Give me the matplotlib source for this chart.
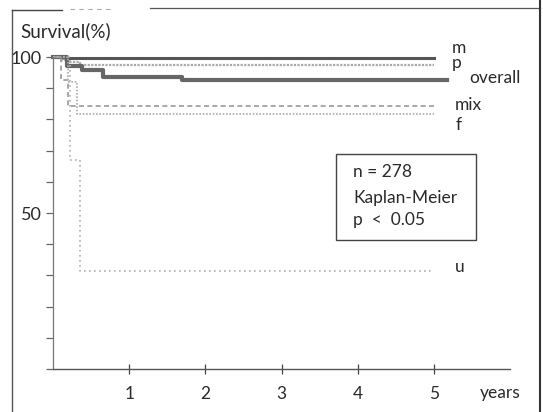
import matplotlib
matplotlib.use("Agg")
import matplotlib.pyplot as plt
from matplotlib.lines import Line2D
from matplotlib.patches import Rectangle

plt.rcParams['font.family'] = ['Lato', 'DejaVu Sans']

# Kaplan-Meier step data (years, survival %)
m_t = [0, 0.15, 5.0]
m_s = [100, 99.7, 99.7]
p_t = [0, 0.1, 0.2, 0.35, 5.0]
p_s = [100, 99.0, 98.4, 97.3, 97.3]
overall_t = [0, 0.18, 0.38, 0.66, 1.7, 5.17]
overall_s = [100, 97.1, 95.8, 93.7, 92.6, 92.6]
mix_t = [0, 0.1, 0.2, 5.0]
mix_s = [100, 92.5, 84.3, 84.3]
f_t = [0, 0.2, 0.31, 5.0]
f_s = [100, 92.0, 81.8, 81.8]
u_t = [0, 0.22, 0.35, 5.0]
u_s = [100, 67.0, 31.4, 31.4]

series_labels = ["m", "p", "overall", "mix", "f", "u"]
x_ticks = [1, 2, 3, 4, 5]
y_ticks = [0, 10, 20, 30, 40, 50, 60, 70, 80, 90, 100]
y_labels = {50: "50", 100: "100"}
box_lines = ["n = 278", "Kaplan-Meier", "p  <  0.05"]

FS = 12.5
TC = "#2a2a2a"

fig = plt.figure(figsize=(5.43, 4.12), dpi=100)
ax = fig.add_axes([53/543, 1-369/412, 457/543, 312/412])
ax.set_xlim(0, 6.0)
ax.set_ylim(0, 100)

styles = [
    (m_t, m_s, dict(color="#555555", lw=2.2, ls="-")),
    (p_t, p_s, dict(color="#aaaaaa", lw=1.6, ls=(0, (1, 0.6)))),
    (overall_t, overall_s, dict(color="#666666", lw=3.0, ls="-")),
    (mix_t, mix_s, dict(color="#999999", lw=1.2, ls=(0, (3, 2)))),
    (f_t, f_s, dict(color="#aaaaaa", lw=1.2, ls=(0, (1, 1)))),
    (u_t, u_s, dict(color="#b0b0b0", lw=1.2, ls=(0, (1, 2)))),
]
for t, s, st in styles:
    ax.step(t, s, where="post", clip_on=False, **st)

# series labels at the right end (baseline positions)
label_pos = [(5.24, 101.3), (5.24, 96.5), (5.47, 91.7), (5.28, 83.0), (5.28, 76.6), (5.28, 31.1)]
for lab, (x, y) in zip(series_labels, label_pos):
    ax.text(x, y, lab, fontsize=FS, color=TC, va="baseline", ha="left")

# info box
ax.add_patch(Rectangle((3.71, 41.3), 1.85, 27.6, fill=False, ec="#444444", lw=1.0))
for i, (line, yb) in enumerate(zip(box_lines, [61.5, 53.2, 46.2])):
    ax.text(3.94, yb, line, fontsize=FS, color=TC, va="baseline", ha="left")

for side in ["top", "right"]:
    ax.spines[side].set_visible(False)
ax.spines["left"].set_color("#777777")
ax.spines["left"].set_linewidth(0.9)
ax.spines["bottom"].set_color("#555555")
ax.spines["bottom"].set_linewidth(1.0)

ax.set_xticks(x_ticks)
ax.set_xticklabels([str(v) for v in x_ticks])
ax.set_yticks(y_ticks)
ax.set_yticklabels([y_labels.get(v, "") for v in y_ticks])
ax.tick_params(axis="x", direction="inout", length=7, width=0.9, color="#444444",
               labelsize=FS, pad=9, labelcolor=TC)
ax.tick_params(axis="y", direction="out", length=5, width=0.9, color="#666666",
               labelsize=13, pad=3, labelcolor=TC)

ax.text(5.6, -7.6, "years", fontsize=FS, color=TC, va="center", ha="left", clip_on=False)
fig.text(20/543, 1-31/412, "Survival(%)", fontsize=13.5, color=TC, va="center", ha="left")

# page frame lines
fig.add_artist(Line2D([12/543, 12/543], [0, 1-10/412], color="#555555", lw=1.0))
fig.add_artist(Line2D([12/543, 62/543], [1-10/412, 1-10/412], color="#444444", lw=1.0))
fig.add_artist(Line2D([70/543, 110/543], [1-9/412, 1-9/412], color="#aaaaaa", lw=0.8,
                      ls=(0, (4, 4))))
fig.add_artist(Line2D([150/543, 540/543], [1-8/412, 1-8/412], color="#555555", lw=0.9))
fig.add_artist(Line2D([540/543, 540/543], [0, 1], color="#333333", lw=1.5))

fig.savefig("out.png", dpi=100, facecolor="white")
